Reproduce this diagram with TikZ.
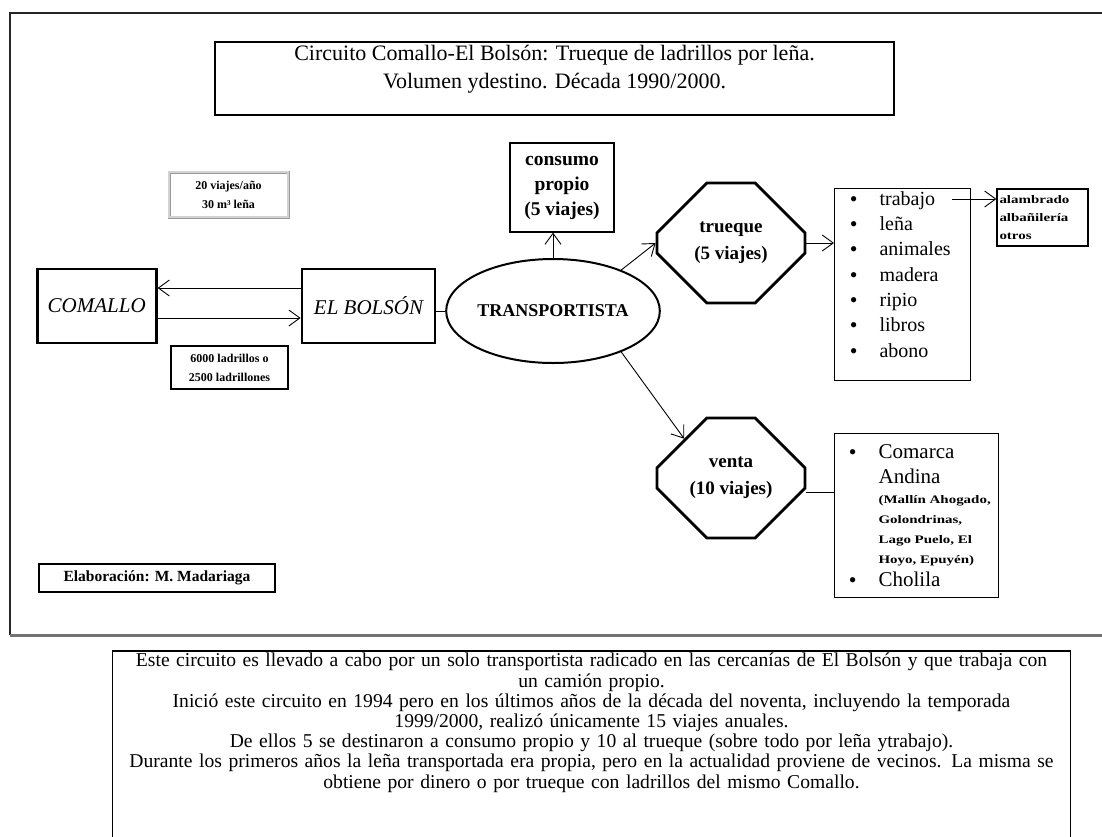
\documentclass[tikz,border=0pt]{standalone}
\usepackage{fontspec}
\setmainfont{Liberation Serif}
\newfontfamily\ancha[FakeStretch=1.3]{Liberation Serif}
\usetikzlibrary{shapes.geometric,shapes.misc,arrows.meta,calc,positioning}
\newcommand{\vineta}{\leavevmode\llap{\raisebox{-1pt}{\fontsize{22}{22}\selectfont\textbullet}\hspace{22pt}}}

\begin{document}
\begin{tikzpicture}[x=1pt,y=-1pt,
    caja/.style={draw,line width=1.2pt,inner sep=0pt,align=center},
    lugar/.style={draw,line width=2.8pt,minimum height=74pt,inner sep=0pt,
      font=\fontsize{21}{25}\selectfont\itshape},
    octogono/.style={chamfered rectangle,chamfered rectangle xsep=43pt,
      chamfered rectangle ysep=29pt,draw,line width=2.8pt,minimum width=148pt,
      minimum height=120pt,inner sep=0pt,align=center,
      font=\fontsize{19}{27}\selectfont\bfseries},
    etiqueta/.style={caja,font=\fontsize{12}{19}\selectfont\bfseries},
    flecha/.style={-{Straight Barb[length=11pt,width=16pt,line width=0.9pt]},line width=0.9pt},
    linea/.style={line width=0.9pt}]
\useasboundingbox (0,0) rectangle (1102,836);
\coordinate (fondo) at (0,840);
\coordinate (trabajo) at (952,199);

% Marco
\draw[line width=1.2pt,black!85] (1102,13) -- (10,13) -- (10,635);
\draw[line width=3pt,black!55] (10,635) -- (1102,635);

% Titulo
\node[caja] (titulo) at (554.5,78.5) {\begin{minipage}[c][73pt][t]{679pt}\centering
  \fontsize{22}{28}\selectfont\vspace*{3.6pt}
  Circuito Comallo-El Bolsón: Trueque de ladrillos por leña.\\
  Volumen ydestino. Década 1990/2000.\end{minipage}};

% Lugares
\node[lugar,minimum width=119pt] (comallo) at (96.75,306) {COMALLO};
\node[lugar,minimum width=133pt] (bolson) at (368.5,306) {EL BOLSÓN};
\node[etiqueta,draw=gray!80,double=gray!35,double distance=1.2pt,line width=0.9pt,
  minimum width=119pt,minimum height=45pt] (viajes) at (228.5,194.5) {20 viajes/año\\30 m³ leña};
\node[etiqueta,minimum width=117pt,minimum height=43pt] (ladrillos) at (229.5,367.5) {6000 ladrillos o\\2500 ladrillones};

% Transportista y destinos
\node[ellipse,draw,line width=2pt,minimum width=178pt,minimum height=104pt,inner sep=0pt,
  font=\fontsize{18}{20}\selectfont\bfseries] (transp) at (553,311) {TRANSPORTISTA};
\node[caja,minimum width=104pt,minimum height=89pt,
  font=\fontsize{19.5}{25}\selectfont\bfseries] (consumo) at (562,187.5) {consumo\\propio\\(5 viajes)};
\node[octogono] (trueque) at (731,243) {trueque\\(5 viajes)};
\node[octogono] (venta) at (731,478) {venta\\(10 viajes)};

% Listas
\node[caja,anchor=north west] (bienes) at (834,188) {\begin{minipage}[c][192pt][t]{136pt}
  \leftskip=45pt\parindent=0pt\parskip=0pt
  \fontsize{20}{25.3}\selectfont\vspace*{2.9pt}
  \vineta trabajo\par
  \vineta leña\par
  \vineta animales\par
  \vineta madera\par
  \vineta ripio\par
  \vineta libros\par
  \vineta abono\par
\end{minipage}};
\node[caja,minimum width=91pt,minimum height=57pt,align=left,text width=86pt,
  font=\ancha\fontsize{11.5}{18}\selectfont\bfseries] (alambrado) at (1042.5,217.5) {alambrado\\albañilería\\otros};
\node[caja,anchor=north west] (comarca) at (834,433) {\begin{minipage}[c][164pt][t]{164pt}
  \leftskip=44pt\parindent=0pt\parskip=0pt
  \fontsize{21}{25}\selectfont\vspace*{10.6pt}
  \vineta Comarca\par
  Andina\par
  {\ancha\fontsize{11.5}{20}\selectfont\bfseries (Mallín Ahogado,\par Golondrinas,\par Lago Puelo, El\par Hoyo, Epuyén)\par}
  {\fontsize{21}{23}\selectfont\vineta Cholila\par}
\end{minipage}};

\node[etiqueta,minimum width=236pt,minimum height=28pt,
  font=\fontsize{15.5}{18}\selectfont\bfseries] (autor) at (157,578) {Elaboración: M. Madariaga};

% Conexiones
\draw[flecha] ([yshift=18pt]bolson.west) -- ([yshift=18pt]comallo.east);
\draw[flecha] ([yshift=-12pt]comallo.east) -- ([yshift=-12pt]bolson.west);
\draw[linea] (bolson.east |- transp.west) -- (transp.west);
\draw[flecha] (transp.north) -- (transp.north |- consumo.south);
\draw[flecha] (transp.31) -- (trueque.west);
\draw[flecha] (transp.-31) -- (venta.140);
\draw[flecha] (trueque.east) -- (trueque.east -| bienes.west);
\draw[flecha] (trabajo) -- (trabajo -| alambrado.west);
\draw[linea] ([yshift=-14pt]venta.east) -- ([yshift=-14pt]venta.east -| comarca.west);

% Nota
\node[anchor=north,text width=955pt,inner xsep=1pt,inner ysep=2pt,align=center,
  font=\fontsize{19.6}{20.2}\selectfont] (nota) at (591.5,651) {Este circuito es llevado a cabo por un solo transportista radicado en las cercanías de El Bolsón y que trabaja con\\
  un camión propio.\\
  Inició este circuito en 1994 pero en los últimos años de la década del noventa, incluyendo la temporada\\
  1999/2000, realizó únicamente 15 viajes anuales.\\
  De ellos 5 se destinaron a consumo propio y 10 al trueque (sobre todo por leña ytrabajo).\\
  Durante los primeros años la leña transportada era propia, pero en la actualidad proviene de vecinos. La misma se\\
  obtiene por dinero o por trueque con ladrillos del mismo Comallo.};
\draw[line width=1.2pt] (nota.north west |- fondo) -- (nota.north west) -- (nota.north east) -- (nota.north east |- fondo);

\end{tikzpicture}
\end{document}
